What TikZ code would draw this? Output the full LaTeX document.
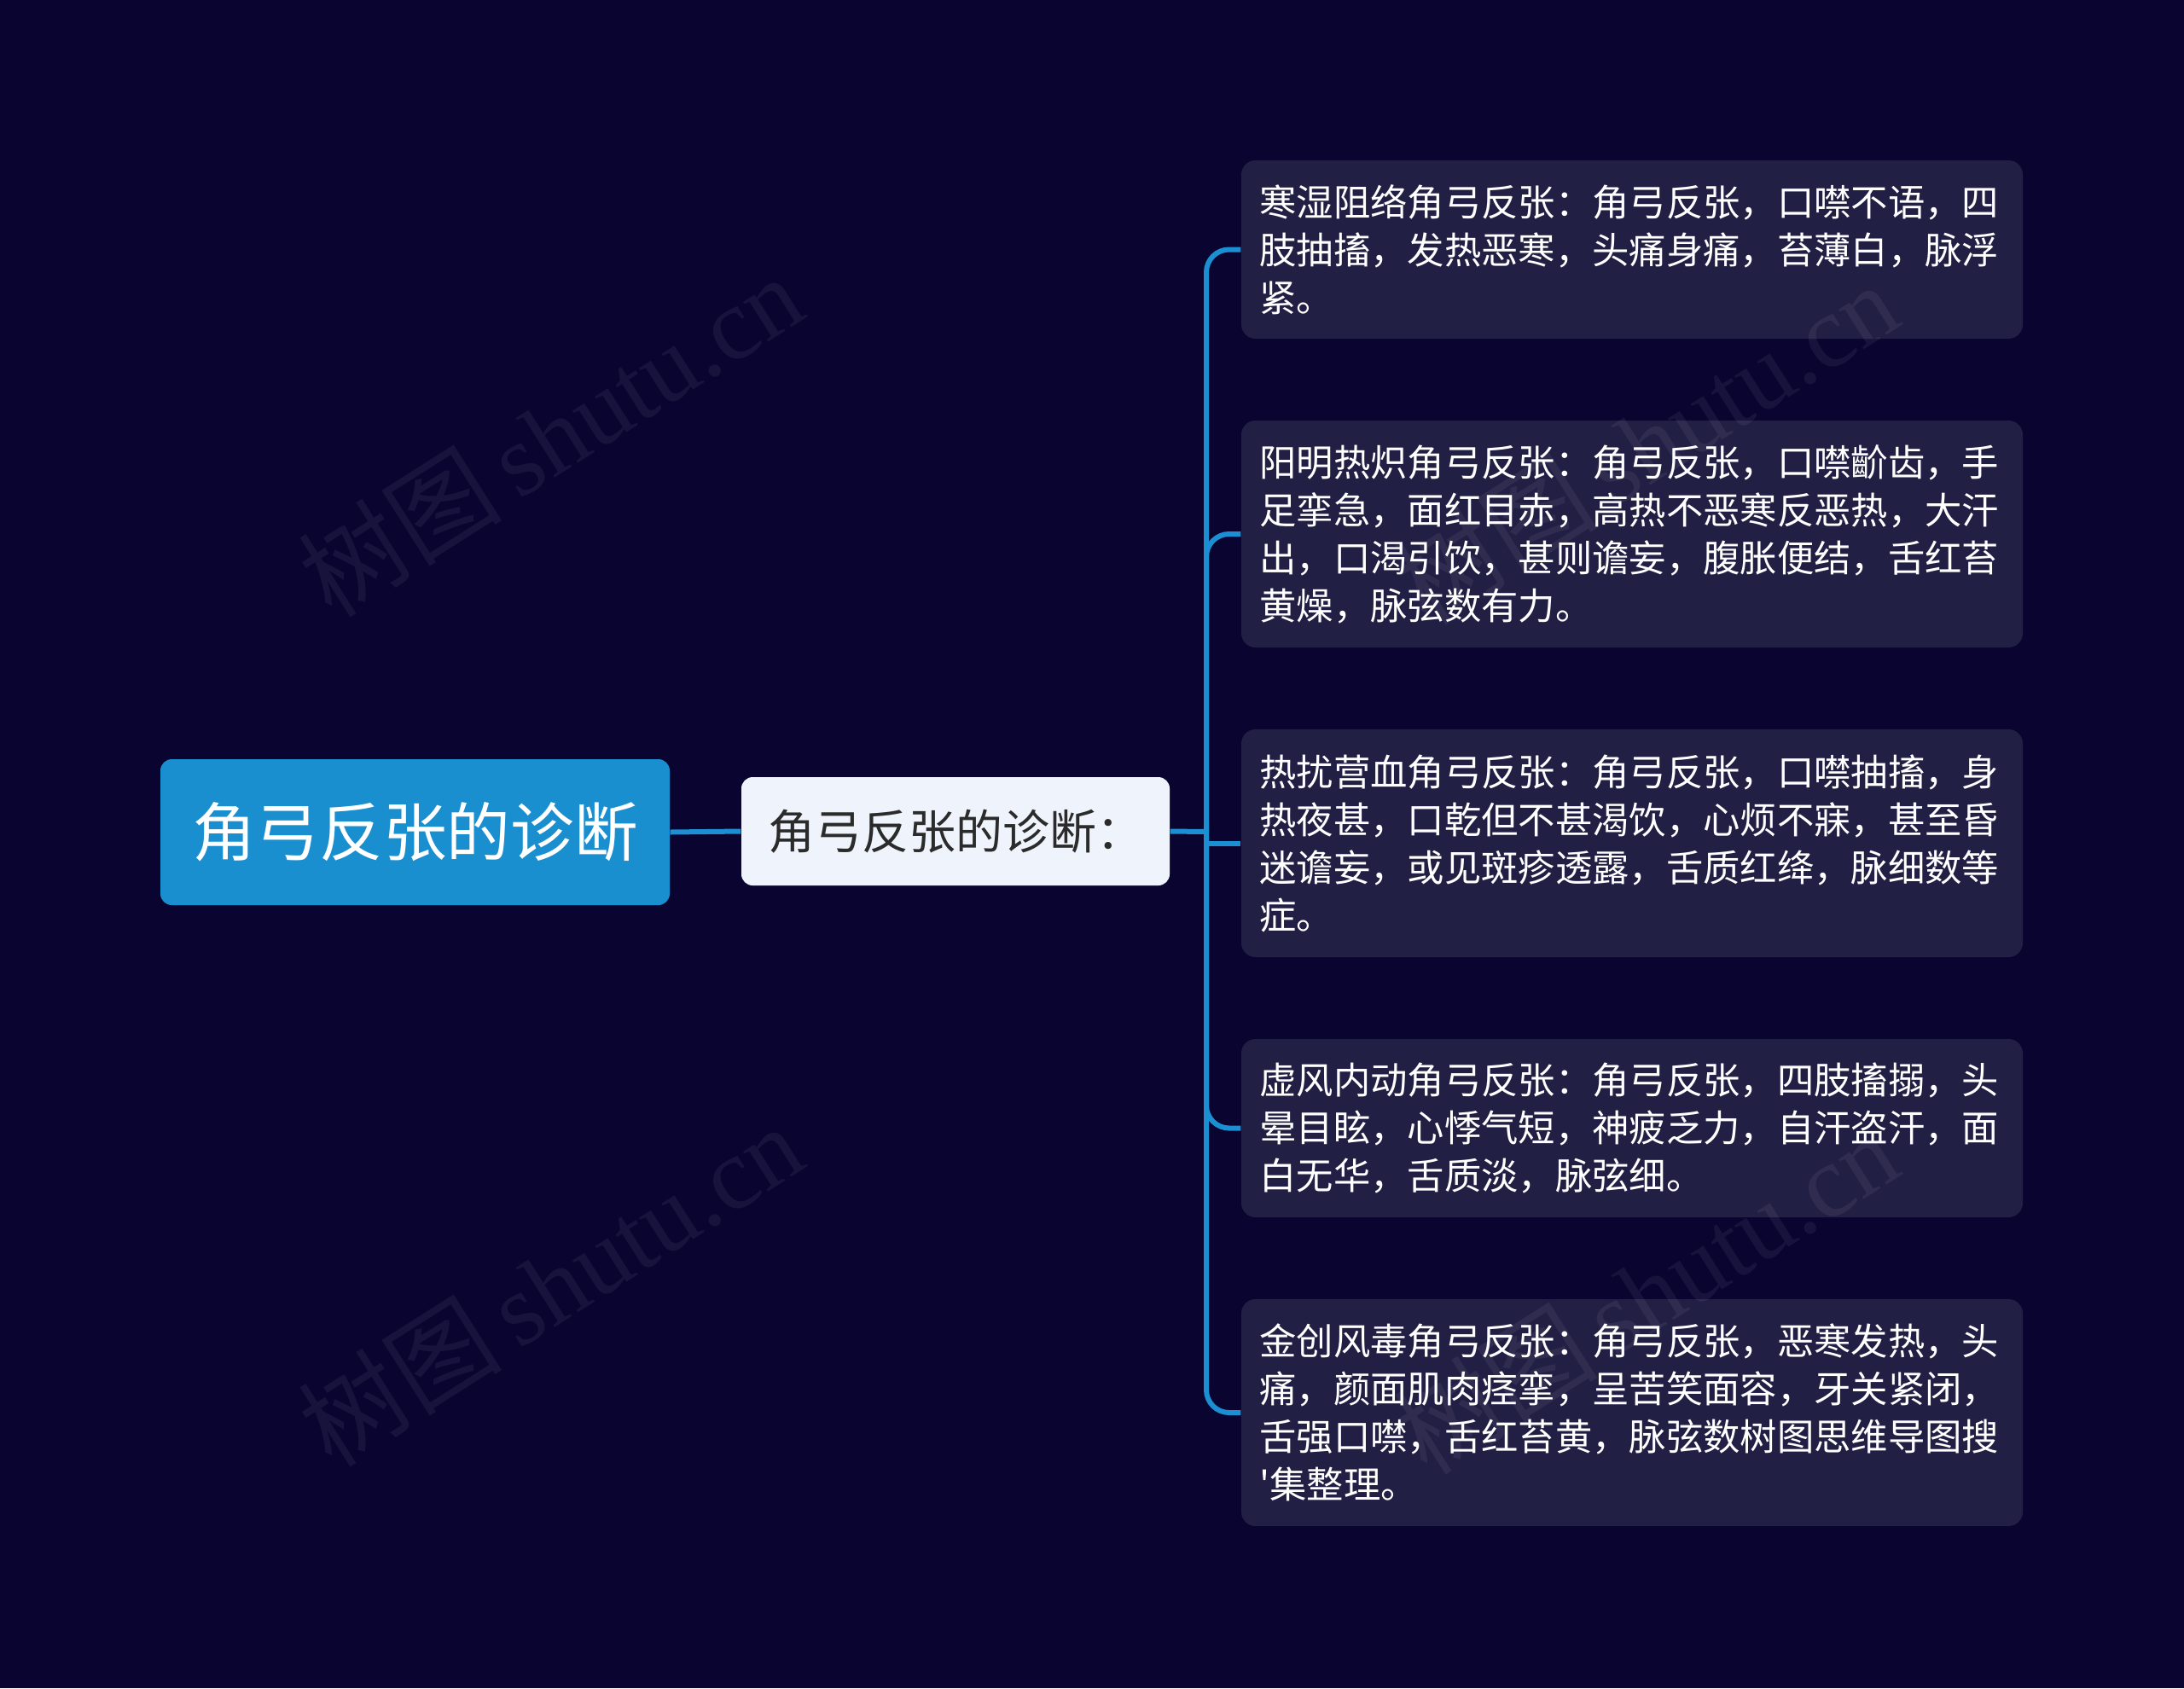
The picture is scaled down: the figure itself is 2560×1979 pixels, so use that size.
\documentclass[tikz,border=0pt]{standalone}
\usepackage{fontspec}
\setmainfont{Noto Sans CJK SC}
\newfontfamily\aposfont{Noto Sans CJK SC}[Ligatures=TeXOff]
\newfontfamily\wmlatin{Liberation Serif}
\newfontfamily\wmcjk{Noto Sans CJK SC}
\definecolor{bgc}{HTML}{0A0530}
\definecolor{leafc}{HTML}{221F45}
\definecolor{rootc}{HTML}{1A8FD0}
\definecolor{childc}{HTML}{EEF3FC}
\definecolor{linec}{HTML}{1B8FD2}
\definecolor{childtxt}{HTML}{2B2B2B}
\tikzset{
  rootbox/.style={fill=rootc, rounded corners=4pt, minimum width=179.1pt, minimum height=51.3pt,
    text=white, font=\fontsize{22.4}{26}\selectfont, inner sep=0pt},
  childbox/.style={fill=childc, rounded corners=4pt, minimum width=150.6pt, minimum height=38.1pt,
    text=childtxt, font=\fontsize{16.5}{20}\selectfont, inner sep=0pt},
  leafbox/.style={fill=leafc, rounded corners=5pt, text width=262pt, inner xsep=6.4pt, inner ysep=0pt,
    align=left, text=white, font=\fontsize{13.0}{16.8}\selectfont},
  conn/.style={draw=linec, line width=1.8pt},
  wmark/.style={text=white, opacity=0.06, rotate=32.4, font=\fontsize{36}{40}\selectfont}
}
\begin{document}
\begin{tikzpicture}[x=0.3pt, y=-0.3pt]
\fill[bgc] (0,0) rectangle (2560,1979);
\node[rootbox] (root) at (486.5,975.5) {角弓反张的诊断};
\node[childbox] (child) at (1120,974.5) {角弓反张的诊断：};
\node[leafbox, minimum height=62.7pt] (l1) at (1913,292.5) {寒湿阻络角弓反张：角弓反张，口噤不语，四\\肢抽搐，发热恶寒，头痛身痛，苔薄白，脉浮\\紧。};
\node[leafbox, minimum height=79.8pt] (l2) at (1913,626) {阳明热炽角弓反张：角弓反张，口噤齘齿，手\\足挛急，面红目赤，高热不恶寒反恶热，大汗\\出，口渴引饮，甚则谵妄，腹胀便结，舌红苔\\黄燥，脉弦数有力。};
\node[leafbox, minimum height=80.1pt] (l3) at (1913,988.5) {热扰营血角弓反张：角弓反张，口噤抽搐，身\\热夜甚，口乾但不甚渴饮，心烦不寐，甚至昏\\迷谵妄，或见斑疹透露，舌质红绛，脉细数等\\症。};
\node[leafbox, minimum height=62.7pt] (l4) at (1913,1322.5) {虚风内动角弓反张：角弓反张，四肢搐搦，头\\晕目眩，心悸气短，神疲乏力，自汗盗汗，面\\白无华，舌质淡，脉弦细。};
\node[leafbox, minimum height=79.8pt] (l5) at (1913,1656) {金创风毒角弓反张：角弓反张，恶寒发热，头\\痛，颜面肌肉痉挛，呈苦笑面容，牙关紧闭，\\舌强口噤，舌红苔黄，脉弦数树图思维导图搜\\{\aposfont\symbol{39}}集整理。};
\coordinate (j) at (1414,975);
\draw[conn] (root.east) -- (child.west);
\draw[conn] (child.east) -- (j);
\draw[conn, rounded corners=8pt] (j) |- (l1.west);
\draw[conn, rounded corners=8pt] (j) |- (l2.west);
\draw[conn] (j) |- (l3.west);
\draw[conn, rounded corners=8pt] (j) |- (l4.west);
\draw[conn, rounded corners=8pt] (j) |- (l5.west);
\node[wmark] (w1) at (645,510) {\wmcjk 树图\,\wmlatin shutu.cn};
\node[wmark] (w2) at (645,1506) {\wmcjk 树图\,\wmlatin shutu.cn};
\node[wmark] (w3) at (1929,519) {\wmcjk 树图\,\wmlatin shutu.cn};
\node[wmark] (w4) at (1929,1515) {\wmcjk 树图\,\wmlatin shutu.cn};
\end{tikzpicture}
\end{document}
